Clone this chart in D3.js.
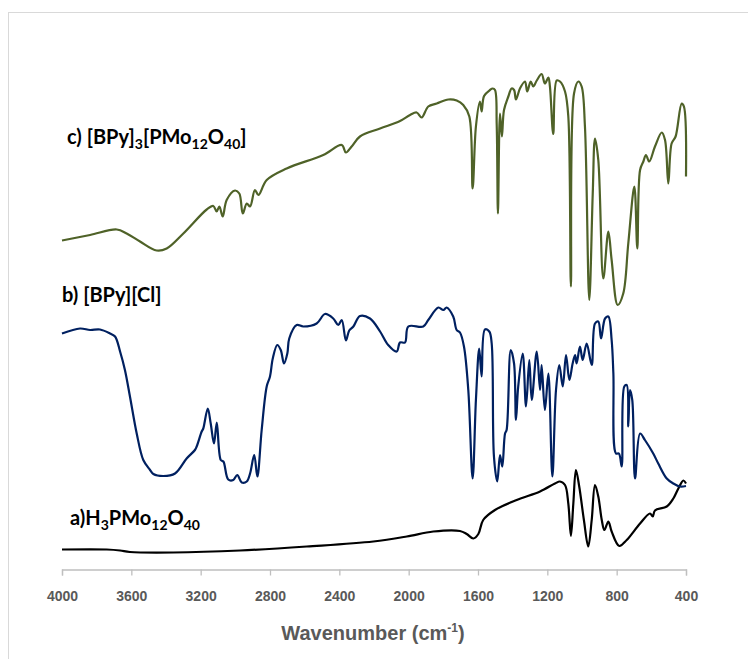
<!DOCTYPE html>
<html>
<head>
<meta charset="utf-8">
<script src="https://cdn.jsdelivr.net/npm/d3@7"></script>
<style>
  body { margin: 0; background: #fff; }
  svg { display: block; }
</style>
</head>
<body>
<svg id="ir_chart" width="748" height="659"></svg>
<script>
// wavenumber (cm-1) / relative transmittance
const wn_a = [4000, 3742, 3665, 3608, 3358, 2973, 2588, 2204, 2011, 1858, 1704, 1665, 1627, 1598, 1570, 1502, 1377, 1242, 1156, 1127, 1098, 1079, 1064, 1050, 1035, 1016, 989, 964, 944, 925, 906, 886, 871, 848, 829, 785, 742, 665, 608, 592, 579, 511, 473, 444, 415, 400]
const t_a  = [4.1, 4.1, 3.9, 3.6, 3.5, 3.9, 4.7, 5.7, 6.7, 7.7, 7.8, 7.2, 6.3, 7.2, 10, 12, 14, 15.7, 17.3, 17.7, 17, 13.3, 6.8, 13.3, 20, 16.7, 10, 4.7, 10, 17, 14.7, 10, 8, 9.7, 7.7, 4.8, 6, 9.3, 11.3, 10.7, 11.9, 12.7, 14.3, 16.3, 17.9, 17.3]

const wn_b = [4000, 3896, 3838, 3781, 3723, 3694, 3665, 3637, 3608, 3569, 3531, 3492, 3473, 3416, 3348, 3281, 3233, 3223, 3194, 3185, 3159, 3142, 3123, 3107, 3084, 3069, 3041, 3012, 2989, 2963, 2934, 2915, 2891, 2873, 2848, 2819, 2800, 2784, 2758, 2738, 2719, 2700, 2689, 2646, 2608, 2531, 2483, 2435, 2406, 2386, 2362, 2343, 2319, 2281, 2223, 2165, 2118, 2069, 2050, 2021, 2002, 1916, 1887, 1829, 1800, 1781, 1743, 1723, 1704, 1681, 1656, 1631, 1612, 1593, 1579, 1560, 1535, 1521, 1508, 1489, 1473, 1460, 1444, 1435, 1411, 1392, 1381, 1368, 1342, 1323, 1304, 1290, 1261, 1242, 1233, 1214, 1194, 1171, 1150, 1131, 1111, 1092, 1073, 1054, 1040, 1031, 1012, 996, 973, 944, 925, 906, 890, 867, 848, 829, 819, 804, 787, 771, 756, 742, 733, 723, 710, 694, 665, 637, 589, 560, 511, 473, 435, 400]
const t_b  = [47.3, 48.3, 48, 48.1, 47.3, 46.7, 43.7, 40, 34.7, 27.3, 22, 20, 19.2, 18.8, 19.3, 22.3, 24, 24.7, 27.7, 28.3, 32.3, 29.3, 25.3, 29.5, 22, 21.7, 18.1, 18, 19, 17.5, 17.7, 19.3, 23, 18.7, 28, 36.7, 38.7, 42.3, 45, 44, 41.3, 43.3, 46.3, 49, 48.7, 49.3, 51.2, 50.3, 49, 50, 45.9, 47.9, 48.7, 50.8, 50.3, 47.7, 45, 43.7, 45.5, 45.5, 48.7, 48.7, 50, 52.5, 52, 52.5, 50.7, 48, 47.5, 44.7, 36, 18.3, 34, 44.3, 38.7, 48.1, 47.7, 45.3, 22.7, 17.7, 23, 20.7, 27.3, 28, 44, 41.3, 30, 36.7, 43.3, 32.7, 42, 34, 43.7, 36, 41, 32, 39.3, 18.7, 36, 41, 36.7, 43, 38, 41.3, 43, 41.3, 44.7, 42, 45.3, 41, 49.3, 49.7, 46.3, 50.3, 50.7, 46, 39.3, 23.3, 23.3, 20.7, 36.7, 37, 28.7, 36, 34, 18.3, 27.3, 26, 23.3, 21.3, 18.3, 17.3, 16.7, 16.8]

const wn_c = [4000, 3838, 3684, 3627, 3550, 3454, 3396, 3300, 3165, 3127, 3108, 3092, 3073, 3050, 3002, 2977, 2957, 2934, 2915, 2887, 2867, 2819, 2704, 2493, 2386, 2362, 2329, 2281, 2165, 2050, 1992, 1954, 1925, 1887, 1838, 1771, 1723, 1685, 1650, 1631, 1612, 1589, 1579, 1565, 1531, 1515, 1502, 1492, 1485, 1473, 1462, 1450, 1425, 1406, 1392, 1381, 1358, 1329, 1316, 1296, 1281, 1261, 1233, 1214, 1194, 1185, 1166, 1146, 1127, 1098, 1079, 1064, 1046, 1021, 1002, 983, 958, 938, 925, 906, 877, 848, 829, 794, 762, 733, 698, 681, 665, 646, 631, 612, 579, 540, 521, 502, 483, 460, 425, 412, 400]
const t_c  = [65.9, 67, 68.1, 67.3, 65.7, 63.9, 64.3, 67.3, 72.1, 72.8, 71.7, 72.7, 70.7, 74, 75.9, 75.3, 71.3, 73.3, 72.7, 76, 75, 78, 80.3, 83, 85, 83.5, 84.7, 86.7, 88.3, 89.8, 91, 91.5, 90.5, 92.7, 93.3, 94.1, 93.9, 93, 90.7, 76.3, 88.7, 93.7, 91.7, 94.8, 96, 96.3, 96, 89, 71.3, 91.3, 86.7, 92, 94.7, 96.3, 96, 94.1, 96.3, 97.7, 95.7, 97.7, 96.7, 97.9, 99.2, 97.3, 98.5, 96.7, 87.2, 97.9, 97.7, 95.7, 90.7, 56.7, 95.3, 97.7, 96.7, 88.7, 54, 75.3, 86.3, 82, 58.3, 67.7, 62, 53, 55.3, 65.3, 76.7, 64.3, 80, 81.7, 83, 81.7, 84.7, 87.5, 86, 77.3, 85.3, 86.7, 93.3, 92.7, 78.7]

const xTicks = [4000, 3600, 3200, 2800, 2400, 2000, 1600, 1200, 800, 400]

const series = [
  {name: "a", wn: wn_a, t: t_a, color: "#000000"},
  {name: "b", wn: wn_b, t: t_b, color: "#002060"},
  {name: "c", wn: wn_c, t: t_c, color: "#4f6228"}
]

var svg = d3.select("#ir_chart")

// outer frame (right / bottom edges fall outside the picture)
svg.append("rect")
  .attr("x", 8.5).attr("y", 12.5)
  .attr("width", 800).attr("height", 700)
  .attr("fill", "none")
  .attr("stroke", "#d9d9d9")

var x = d3.scaleLinear().domain([4000, 400]).range([62, 686])
var y = d3.scaleLinear().domain([0, 100]).range([570, 70])

// x axis
var xAxis = svg.append("g")
  .attr("class", "xAxis")
  .attr("transform", "translate(0,569.5)")
  .call(d3.axisBottom(x).tickValues(xTicks).tickSize(6).tickPadding(16).tickFormat(d3.format("d")))

xAxis.select(".domain").attr("stroke", "#bfbfbf").attr("stroke-width", 1.3)
xAxis.selectAll(".tick line").attr("stroke", "#bfbfbf").attr("stroke-width", 1.3)
xAxis.selectAll(".tick text")
  .attr("fill", "#595959")
  .attr("font-family", "'Liberation Sans', Arial, sans-serif")
  .attr("font-weight", "bold")
  .attr("font-size", "14px")

// axis title
var xt = svg.append("text")
  .attr("x", 373).attr("y", 640)
  .attr("text-anchor", "middle")
  .attr("fill", "#595959")
  .attr("font-family", "'Liberation Sans', Arial, sans-serif")
  .attr("font-weight", "bold")
  .attr("font-size", "20px")
xt.append("tspan").text("Wavenumber (cm")
xt.append("tspan").text("-1").attr("font-size", "12px").attr("dy", -8)
xt.append("tspan").text(")").attr("dy", 8)

// spectra
var line = d3.line()
  .x(d => x(d[0]))
  .y(d => y(d[1]))
  .curve(d3.curveCatmullRom.alpha(0.5))

svg.append("g").selectAll("path")
  .data(series)
  .enter().append("path")
  .attr("d", s => line(s.wn.map((w, i) => [w, s.t[i]])))
  .attr("fill", "none")
  .attr("stroke", s => s.color)
  .attr("stroke-width", 2.2)
  .attr("stroke-linejoin", "round")

// labels with subscripts
var labels = [
  {x: 67, y: 144, parts: [["c) [BPy]", 0], ["3", 1], ["[PMo", 0], ["12", 1], ["O", 0], ["40", 1], ["]", 0]]},
  {x: 62, y: 302, parts: [["b) [BPy][Cl]", 0]]},
  {x: 70, y: 525, parts: [["a)H", 0], ["3", 1], ["PMo", 0], ["12", 1], ["O", 0], ["40", 1]]}
]

labels.forEach(l => {
  var t = svg.append("text")
    .attr("x", l.x).attr("y", l.y)
    .attr("fill", "#000")
    .attr("font-family", "Lato, 'Open Sans', sans-serif")
    .attr("font-weight", "bold")
    .attr("font-size", "20px")
  var sub = 0
  l.parts.forEach(p => {
    var ts = t.append("tspan").text(p[0])
    if (p[1] && !sub) { ts.attr("dy", 5).attr("font-size", "14px"); sub = 1 }
    else if (p[1]) { ts.attr("font-size", "14px") }
    else if (sub) { ts.attr("dy", -5); sub = 0 }
  })
})
</script>
</body>
</html>
